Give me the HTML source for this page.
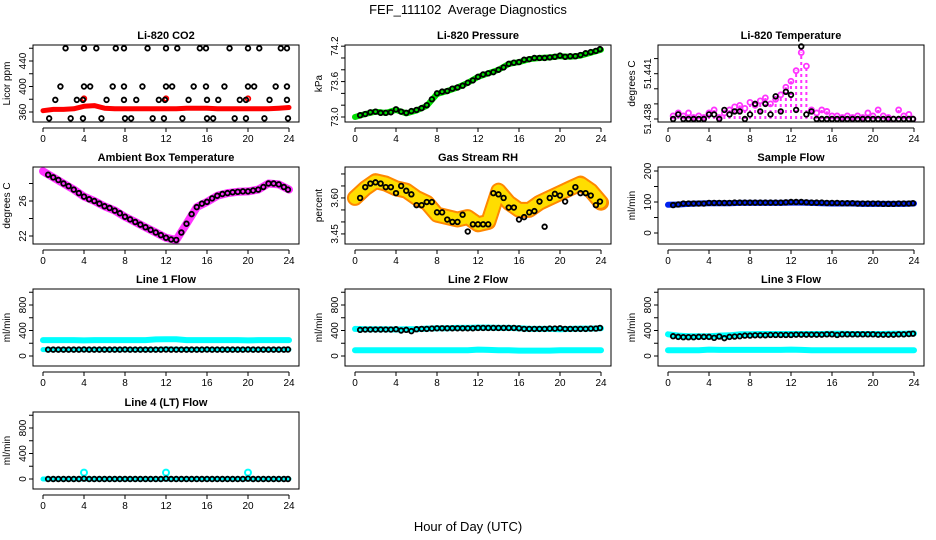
<!DOCTYPE html>
<html><head><meta charset="utf-8">
<style>
html,body{margin:0;padding:0;background:#fff;}
svg{display:block;font-family:"Liberation Sans",sans-serif;}
</style></head>
<body>
<svg id="chart" width="936" height="540" viewBox="0 0 936 540" xmlns="http://www.w3.org/2000/svg">
<text x="468" y="14" text-anchor="middle" font-size="13">FEF_111102&#160; Average Diagnostics</text>
<text x="468" y="531" text-anchor="middle" font-size="13">Hour of Day (UTC)</text>
</svg>
<script>
// ---- shared categories ----
const hours = [0.5,1,1.5,2,2.5,3,3.5,4,4.5,5,5.5,6,6.5,7,7.5,8,8.5,9,9.5,10,10.5,11,11.5,12,12.5,13,13.5,14,14.5,15,15.5,16,16.5,17,17.5,18,18.5,19,19.5,20,20.5,21,21.5,22,22.5,23,23.5,23.9];
const bandHours = [0,1,2,3,4,5,6,7,8,9,10,11,12,13,14,15,16,17,18,19,20,21,22,23,24];
const xTicks = [0,4,8,12,16,20,24];

// ---- CO2 ----
const co2Hours = [2.2,4.0,5.2,7.1,7.9,10.2,12,13.1,15.3,15.9,18.2,20,21.1,23.2,23.8, 1.7,4,4.6,6.8,7.9,9.7,12,12.6,14.7,15.9,17.7,20,20.6,22.7,23.8, 1.2,3.3,3.9,6.2,7.9,9.1,11.3,11.9,14.2,16,17.1,19.2,19.8,22.1,23.8, 0.6,2.7,3.9,5.7,8,8.6,10.7,11.8,13.6,16,16.6,18.7,19.8,21.6,23.9];
const co2Values = [460,460,460,460,460,460,460,460,460,460,460,460,460,460,460, 400,400,400,400,400,400,400,400,400,400,400,400,400,400,400, 379,379,379,379,379,379,379,379,379,379,379,379,379,379,379, 350,350,350,350,350,350,350,350,350,350,350,350,350,350,350];
const co2Band = [362,364,364,365,369,370,366,365,365,365,365,365,365,365,366,366,366,365,365,365,365,365,365,366,367];
const co2SpikeHours = [4,12,20];
const co2SpikeValues = [381,381,381];

// ---- Pressure ----
const pressBlack = [73.03,73.05,73.08,73.09,73.07,73.07,73.08,73.13,73.09,73.07,73.1,73.12,73.15,73.2,73.3,73.4,73.43,73.44,73.48,73.5,73.53,73.58,73.62,73.68,73.72,73.74,73.76,73.8,73.84,73.9,73.92,73.93,73.97,73.98,74.0,74.0,74.0,74.01,74.02,74.04,74.02,74.03,74.03,74.05,74.08,74.1,74.12,74.15];
const pressBand = [73.0,73.05,73.09,73.07,73.12,73.06,73.11,73.19,73.39,73.44,73.5,73.58,73.68,73.74,73.8,73.9,73.93,73.98,74.0,74.01,74.03,74.02,74.04,74.09,74.14];

// ---- Li-820 Temperature ----
const tempBlack = [51.438,51.4383,51.438,51.438,51.438,51.438,51.438,51.4383,51.4383,51.438,51.4386,51.4383,51.4385,51.4385,51.438,51.4383,51.439,51.4385,51.439,51.4383,51.4395,51.4385,51.4398,51.4396,51.4386,51.4428,51.4383,51.4385,51.438,51.438,51.438,51.438,51.438,51.438,51.438,51.438,51.438,51.438,51.438,51.438,51.438,51.438,51.438,51.438,51.438,51.438,51.438,51.438];
const tempMagenta = [51.4382,51.4384,51.4382,51.4384,51.4381,51.4382,51.4381,51.4384,51.4386,51.4381,51.4384,51.4386,51.4388,51.4389,51.4387,51.4391,51.4389,51.4392,51.4394,51.439,51.4393,51.4396,51.4401,51.4405,51.4412,51.4424,51.4415,51.4386,51.4384,51.4386,51.4385,51.4382,51.4382,51.4381,51.4382,51.4381,51.4382,51.4381,51.4384,51.4382,51.4386,51.4382,51.4381,51.438,51.4386,51.4382,51.4383,51.438];

// ---- Ambient Box Temperature ----
const ambBlack = [29.0,28.7,28.4,28.0,27.7,27.3,26.9,26.5,26.2,26.0,25.7,25.4,25.2,24.9,24.6,24.2,23.9,23.6,23.3,23.0,22.7,22.4,22.1,21.8,21.6,21.55,22.4,23.4,24.5,25.3,25.7,25.9,26.3,26.6,26.8,26.9,27.0,27.05,27.1,27.1,27.2,27.3,27.6,28.0,28.0,27.9,27.6,27.3];
const ambBand = [29.4,28.7,28.0,27.3,26.5,26.0,25.4,24.9,24.2,23.6,23.0,22.4,21.8,21.55,23.4,25.3,25.9,26.6,26.9,27.05,27.1,27.3,28.0,27.9,27.3];

// ---- Gas Stream RH ----
const rhBlack = [3.60,3.645,3.66,3.665,3.66,3.645,3.645,3.62,3.65,3.63,3.615,3.57,3.57,3.583,3.583,3.54,3.54,3.51,3.50,3.50,3.53,3.46,3.49,3.49,3.49,3.49,3.62,3.615,3.60,3.56,3.56,3.51,3.52,3.54,3.545,3.585,3.48,3.60,3.617,3.61,3.585,3.62,3.645,3.62,3.62,3.61,3.57,3.585];
const rhBand = [3.60,3.64,3.67,3.66,3.64,3.63,3.60,3.58,3.53,3.52,3.51,3.52,3.49,3.50,3.63,3.58,3.55,3.55,3.58,3.60,3.62,3.64,3.66,3.63,3.58];

// ---- Sample Flow ----
const sampleBlack = [90,92,95,95,95,95,95,97,97,97,97,97,98,98,98,98,98,98,98,98,98,98,99,100,100,100,99,98,98,98,97,97,97,96,96,96,95,95,95,95,95,94,94,94,95,95,95,96];
const sampleBand = [91,92,94,95,96,96,96,97,97,97,97,97,98,98,97,96,95,95,95,94,94,94,94,94,95];

// ---- Line flows ----
const line1Black = [100,100,100,100,100,100,100,102,100,100,100,100,100,100,100,102,100,100,100,100,100,100,100,102,100,100,100,100,100,100,100,102,100,100,100,100,100,100,100,102,100,100,100,100,100,100,100,102];
const line1High = [250,250,250,250,245,250,250,250,250,250,250,260,262,262,250,250,250,250,250,250,245,250,250,250,250];
const line1Low = [100,100,100,100,100,100,100,100,100,100,100,100,110,105,100,100,100,100,100,100,100,100,100,100,100];
const line2Black = [410,415,415,415,415,415,415,420,400,410,390,420,425,425,430,435,435,435,435,435,435,435,435,440,440,440,440,440,440,440,440,435,425,425,425,425,425,430,430,435,425,425,425,425,425,430,430,440];
const line2High = [425,420,420,420,415,420,420,430,435,435,440,440,445,445,440,440,435,425,425,425,420,425,430,430,435];
const line2Low = [90,90,90,90,90,90,90,90,90,90,90,90,100,95,90,90,85,85,85,85,90,90,90,90,90];
const line3Black = [310,300,295,295,295,300,300,300,285,305,280,300,305,310,320,320,325,325,325,330,330,330,330,330,335,335,335,335,335,335,340,340,330,340,340,340,340,340,340,340,335,335,335,335,340,340,345,350];
const line3High = [340,320,310,310,310,320,325,340,340,345,345,345,345,345,345,345,350,350,345,345,345,345,350,350,355];
const line3Low = [90,90,90,90,100,95,95,95,95,95,95,95,100,95,90,90,90,90,90,90,90,90,90,90,90];
const line4Black = [0,0,0,0,0,0,0,5,0,0,0,0,0,0,0,0,0,0,0,0,0,0,0,5,0,0,0,0,0,0,0,0,0,0,0,0,0,0,0,5,0,0,0,0,0,0,0,0];
const line4Cyan = [0,0,0,0,0,0,0,0,0,0,0,0,0,0,0,0,0,0,0,0,0,0,0,0,0];
const line4SpikeHours = [4,12,20];
const line4SpikeValues = [100,100,100];

const flowTicks = [0,200,400,600,800,1000];
const flowLabels = ["0","","400","","800",""];

const NS = "http://www.w3.org/2000/svg";
const svg = document.getElementById('chart');
function mk(tag, attrs, parent){
  const e = document.createElementNS(NS, tag);
  for (const k in attrs) e.setAttribute(k, attrs[k]);
  (parent||svg).appendChild(e);
  return e;
}
const colL = [33, 345, 658];
const rowT = [45, 167, 289, 412];

function panel(name, col, row, title, ylab, ymin, ymax, yTicks, yLabels){
  const L = colL[col], T = rowT[row], W = 266, H = 77;
  const g = mk('g', {});
  
  
  const p = {g, L, T, W, H,
    x: h => L + 10 + h * (246/24),
    y: v => T + H - (v - ymin) / (ymax - ymin) * H};
  const t = mk('text', {x: L + W/2, y: T - 6, 'text-anchor':'middle', 'font-size':'11', 'font-weight':'bold'}, g);
  
  
  t.textContent = title;
  const yl = mk('text', {x: 0, y: 0, 'text-anchor':'middle', 'font-size':'10', transform:`translate(${L-23},${T+H/2}) rotate(-90)`}, g);
  
  
  yl.textContent = ylab;
  yTicks.forEach((v,i)=>{
    const yy = p.y(v);
    mk('line', {x1:L-4, x2:L, y1:yy, y2:yy, stroke:'#000', 'stroke-width':1}, g);
    if (yLabels[i]) {
      const tl = mk('text', {x:0, y:0, 'text-anchor':'middle', 'font-size':'10', transform:`translate(${L-7},${yy}) rotate(-90)`}, g);
      
      
      tl.textContent = yLabels[i];
    }
  });
  mk('line', {x1:p.x(0), x2:p.x(24), y1:T+H+6, y2:T+H+6, stroke:'#000', 'stroke-width':1}, g);
  xTicks.forEach(h=>{
    const xx = p.x(h);
    mk('line', {x1:xx, x2:xx, y1:T+H+6, y2:T+H+10, stroke:'#000', 'stroke-width':1}, g);
    const tl = mk('text', {x:xx, y:T+H+20, 'text-anchor':'middle', 'font-size':'10'}, g);
    
    
    tl.textContent = h;
  });
  p.data = mk('g', {}, g);
  const box = mk('rect', {x:L, y:T, width:W, height:H, fill:'none', stroke:'#000', 'stroke-width':1});
  
  
  return p;
}
function band(p, hs, vs, color, width, name){
  const pts = hs.map((h,i)=>p.x(h).toFixed(1)+','+p.y(vs[i]).toFixed(1)).join(' ');
  const pl = mk('polyline', {points:pts, fill:'none', stroke:color, 'stroke-width':width, 'stroke-linejoin':'round', 'stroke-linecap':'round'}, p.data);
  
  
  return pl;
}
function points(p, hs, vs, color, name, r, sw){
  hs.forEach((h,i)=>{
    const c = mk('circle', {cx:p.x(h), cy:p.y(vs[i]), r:r||2.3, fill:'none', stroke:color, 'stroke-width':sw||1.8}, p.data);
    
    
  });
}

// CO2
let p = panel('co2', 0, 0, 'Li-820 CO2', 'Licor ppm', 344.3, 465.1, [360,380,400,420,440,460], ['360','','400','','440','']);
band(p, bandHours, co2Band, '#ff0000', 5, 'co2-red-band');
points(p, co2SpikeHours, co2SpikeValues, '#ff0000', 'co2-red-point');
points(p, co2Hours, co2Values, '#000', 'co2-point');

// Pressure
p = panel('pressure', 1, 0, 'Li-820 Pressure', 'kPa', 72.915, 74.22, [73.0,73.2,73.4,73.6,73.8,74.0,74.2], ['73.0','','','73.6','','','74.2']);
band(p, bandHours, pressBand, '#00dd00', 6, 'pressure-green-band');
points(p, hours, pressBlack, '#000', 'pressure-point');

// Temperature
p = panel('li820-temp', 2, 0, 'Li-820 Temperature', 'degrees C', 51.4378, 51.4429, [51.438,51.439,51.44,51.441,51.442], ['51.438','','','51.441','']);
hours.forEach((h,i)=>{
  const ln = mk('line', {x1:p.x(h), x2:p.x(h), y1:p.y(51.438), y2:p.y(tempMagenta[i]), stroke:'#ff33ff', 'stroke-width':2, 'stroke-dasharray':'3 3'}, p.data);
  
  
});
points(p, hours, tempMagenta, '#ff33ff', 'temp-magenta-point', 2.5, 1.8);
points(p, hours, tempBlack, '#000', 'temp-point');

// Ambient
p = panel('ambient-temp', 0, 1, 'Ambient Box Temperature', 'degrees C', 21.086, 29.886, [22,24,26,28], ['22','','26','']);
band(p, bandHours, ambBand, '#ff33ff', 8, 'ambient-magenta-band');
points(p, hours, ambBlack, '#000', 'ambient-point');

// RH
p = panel('rh', 1, 1, 'Gas Stream RH', 'percent', 3.408, 3.729, [3.45,3.5,3.55,3.6,3.65,3.7], ['3.45','','','3.60','','']);
band(p, bandHours, rhBand, '#ff8800', 16, 'rh-orange-band');
const yb = band(p, bandHours, rhBand, '#ffdd00', 12, 'rh-yellow-band');
yb.setAttribute('stroke-dasharray', '1.5 2');
points(p, hours, rhBlack, '#000', 'rh-point');

// Sample flow
p = panel('sample-flow', 2, 1, 'Sample Flow', 'ml/min', -35.5, 212.9, [0,50,100,150,200], ['0','','100','','200']);
band(p, bandHours, sampleBand, '#0022ee', 6, 'sample-blue-band');
points(p, hours, sampleBlack, '#000', 'sample-point');

// Line 1
p = panel('line1-flow', 0, 2, 'Line 1 Flow', 'ml/min', -156.9, 1050.9, flowTicks, flowLabels);
band(p, bandHours, line1High, '#00ffff', 6, 'line1-cyan-high-band');
band(p, bandHours, line1Low, '#00ffff', 5, 'line1-cyan-low-band');
points(p, hours, line1Black, '#000', 'line1-point');

// Line 2
p = panel('line2-flow', 1, 2, 'Line 2 Flow', 'ml/min', -156.9, 1050.9, flowTicks, flowLabels);
band(p, bandHours, line2High, '#00ffff', 6, 'line2-cyan-high-band');
band(p, bandHours, line2Low, '#00ffff', 6, 'line2-cyan-low-band');
points(p, hours, line2Black, '#000', 'line2-point');

// Line 3
p = panel('line3-flow', 2, 2, 'Line 3 Flow', 'ml/min', -156.9, 1050.9, flowTicks, flowLabels);
band(p, bandHours, line3High, '#00ffff', 6, 'line3-cyan-high-band');
band(p, bandHours, line3Low, '#00ffff', 6, 'line3-cyan-low-band');
points(p, hours, line3Black, '#000', 'line3-point');

// Line 4
p = panel('line4-flow', 0, 3, 'Line 4 (LT) Flow', 'ml/min', -156.9, 1050.9, flowTicks, flowLabels);
band(p, bandHours, line4Cyan, '#00ffff', 5, 'line4-cyan-band');
points(p, line4SpikeHours, line4SpikeValues, '#00ffff', 'line4-cyan-spike', 3, 2);
points(p, hours, line4Black, '#000', 'line4-point');
</script>
</body></html>
